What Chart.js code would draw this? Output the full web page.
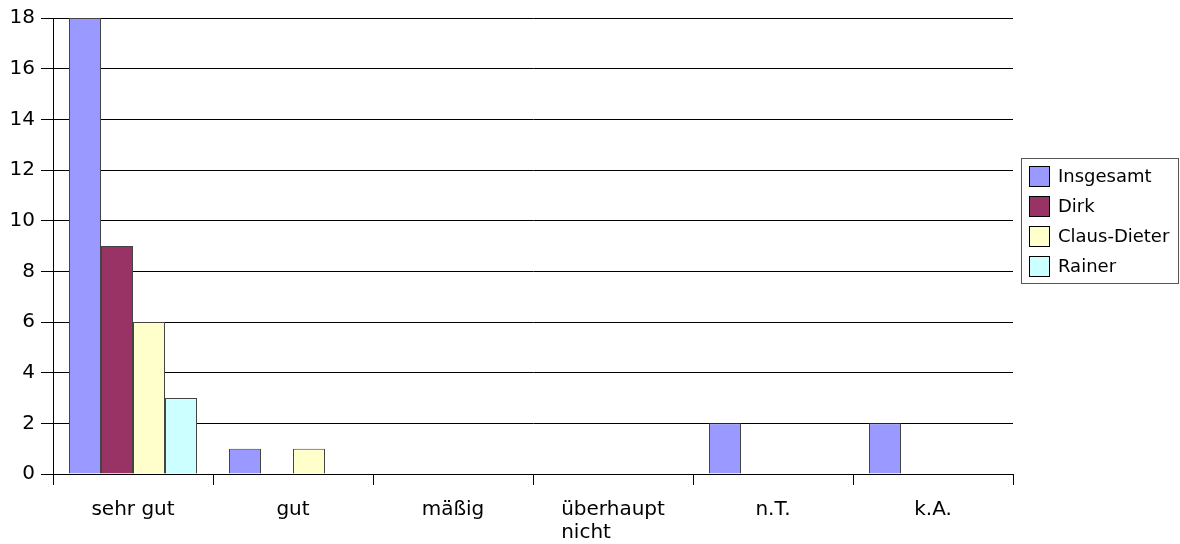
<!DOCTYPE html>
<html>
<head>
<meta charset="utf-8">
<script src="https://cdn.jsdelivr.net/npm/chart.js@4/dist/chart.umd.min.js"></script>
<style>
  html, body { margin: 0; padding: 0; background: #fff; }
  #wrap { width: 1180px; height: 544px; }
</style>
</head>
<body>
<div id="wrap"><canvas id="chart" width="1180" height="544"></canvas></div>
<script>
// categories and series
const categories = ['sehr gut', 'gut', 'mäßig', ['überhaupt', 'nicht'], 'n.T.', 'k.A.'];
const insgesamt   = [18, 1, 0, 0, 2, 2];
const dirk        = [9, 0, 0, 0, 0, 0];
const claudDieter = [6, 1, 0, 0, 0, 0];
const rainer      = [3, 0, 0, 0, 0, 0];
const seriesNames = ['Insgesamt', 'Dirk', 'Claus-Dieter', 'Rainer'];
const yTicks = [0, 2, 4, 6, 8, 10, 12, 14, 16, 18];

const colors = ['#9999ff', '#993366', '#ffffcc', '#ccffff'];
const FONT = "'DejaVu Sans', sans-serif";

// boxed legend on the right, drawn from the datasets
const boxLegend = {
  id: 'boxLegend',
  afterDraw(chart) {
    const ctx = chart.ctx;
    ctx.save();
    ctx.strokeStyle = '#555';
    ctx.lineWidth = 1;
    ctx.strokeRect(1021.5, 158.5, 157, 125);
    ctx.font = '18px ' + FONT;
    ctx.textBaseline = 'middle';
    chart.data.datasets.forEach((ds, i) => {
      const y = 166 + i * 30;
      ctx.fillStyle = ds.backgroundColor;
      ctx.fillRect(1029, y, 21, 21);
      ctx.strokeStyle = '#000';
      ctx.strokeRect(1029.5, y + 0.5, 20, 20);
      ctx.fillStyle = '#000';
      ctx.fillText(ds.label, 1058, y + 11);
    });
    ctx.restore();
  }
};

// category labels: wrapped ones are left aligned like in the original
const xLabels = {
  id: 'xLabels',
  afterDraw(chart) {
    const ctx = chart.ctx;
    const xs = chart.scales.x;
    ctx.save();
    ctx.font = '20px ' + FONT;
    ctx.fillStyle = '#000';
    ctx.textBaseline = 'alphabetic';
    chart.data.labels.forEach((lab, i) => {
      const lines = Array.isArray(lab) ? lab : [lab];
      const cx = xs.getPixelForValue(i);
      const w = Math.max(...lines.map(l => ctx.measureText(l).width));
      ctx.textAlign = 'left';
      lines.forEach((l, j) => {
        const lx = lines.length > 1 ? cx - w / 2 : cx - ctx.measureText(l).width / 2;
        ctx.fillText(l, lx, xs.top + 41 + j * 23);
      });
    });
    ctx.restore();
  }
};

const allSeries = [insgesamt, dirk, claudDieter, rainer];

new Chart(document.getElementById('chart'), {
  type: 'bar',
  data: {
    labels: categories,
    datasets: allSeries.map((vals, i) => ({
      label: seriesNames[i],
      data: vals,
      backgroundColor: colors[i],
      borderColor: '#444',
      borderWidth: 1,
      categoryPercentage: 0.8,
      barPercentage: 1.0
    }))
  },
  options: {
    responsive: false,
    animation: false,
    layout: { padding: { top: 18, right: 167, left: 0, bottom: 0 } },
    plugins: {
      legend: { display: false },
      tooltip: { enabled: false }
    },
    scales: {
      x: {
        offset: true,
        grid: {
          offset: true,
          drawOnChartArea: false,
          color: '#000',
          tickLength: 11
        },
        border: { color: '#000', width: 1 },
        ticks: { display: false },
        afterFit(scale) { scale.height = 70; }
      },
      y: {
        min: 0,
        max: 18,
        afterBuildTicks(scale) { scale.ticks = yTicks.map(v => ({ value: v })); },
        grid: { color: '#000', tickLength: 12 },
        border: { color: '#000', width: 1 },
        ticks: {
          color: '#000',
          font: { family: FONT, size: 20 },
          padding: 6
        },
        afterFit(scale) { scale.width = 53; }
      }
    }
  },
  plugins: [boxLegend, xLabels]
});
</script>
</body>
</html>
